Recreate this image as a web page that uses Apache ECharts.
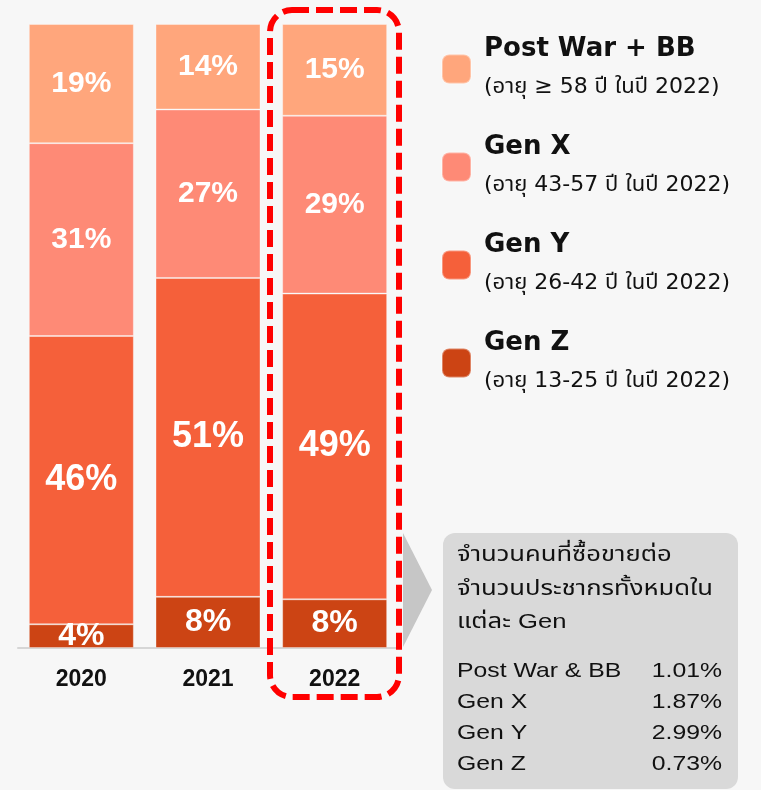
<!DOCTYPE html>
<html lang="th">
<head>
    <meta charset="UTF-8">
    <title>สัดส่วนผู้ซื้อขายแยกตาม Gen</title>
    <style>
        html, body { margin: 0; padding: 0; background: #f7f7f7; }
        #chart { width: 761px; height: 790px; }
    </style>
</head>
<body>
<div id="chart"></div>

<script src="https://cdn.jsdelivr.net/npm/echarts@6/dist/echarts.min.js"></script>
<script>
    // ปี
    var years = ['2020', '2021', '2022'];
    // สัดส่วน (%) ของแต่ละ Gen ในแต่ละปี
    var genZ = [3.8, 8.2, 7.8];
    var genY = [46.2, 51.1, 49.0];
    var genX = [30.9, 27.0, 28.5];
    var postWar = [19.1, 13.7, 14.7];

    var seriesNames = ['Gen Z', 'Gen Y', 'Gen X', 'Post War + BB'];
    var ageNotes = {
        'Post War + BB': '(อายุ ≥ 58 ปี ในปี 2022)',
        'Gen X': '(อายุ 43-57 ปี ในปี 2022)',
        'Gen Y': '(อายุ 26-42 ปี ในปี 2022)',
        'Gen Z': '(อายุ 13-25 ปี ในปี 2022)'
    };

    // กล่องอธิบาย
    var boxTitle = ['จำนวนคนที่ซื้อขายต่อ', 'จำนวนประชากรทั้งหมดใน', 'แต่ละ Gen'];
    var boxGens = ['Post War & BB', 'Gen X', 'Gen Y', 'Gen Z'];
    var boxRatios = ['1.01%', '1.87%', '2.99%', '0.73%'];

    var FONT = '"Liberation Sans", Arial, "Noto Sans Thai", "Noto Sans", sans-serif';
    var WIDE = '"DejaVu Sans", "Liberation Sans", "Noto Sans Thai", sans-serif';
    var colors = {
        'Gen Z': '#cc4414',
        'Gen Y': '#f5603a',
        'Gen X': '#fe8a76',
        'Post War + BB': '#ffa67c'
    };
    var labelSize = {'Gen Z': 32, 'Gen Y': 36, 'Gen X': 30, 'Post War + BB': 30};
    var values = {'Gen Z': genZ, 'Gen Y': genY, 'Gen X': genX, 'Post War + BB': postWar};

    var series = [];
    seriesNames.forEach(function (name) {
        series.push({
            name: name,
            type: 'bar',
            stack: 'all',
            barWidth: 105,
            data: values[name],
            itemStyle: {
                color: colors[name],
                borderColor: 'rgba(255,255,255,0.35)',
                borderWidth: 1
            },
            label: {
                show: true,
                position: 'inside',
                color: '#ffffff',
                fontFamily: FONT,
                fontWeight: 'bold',
                fontSize: labelSize[name],
                formatter: function (p) {
                    return Math.round(p.value) + '%';
                }
            }
        });
    });

    var graphics = [
        {
            type: 'polygon',
            z: 1,
            shape: {points: [[403, 533], [432, 590], [403, 647]]},
            style: {fill: '#c6c6c6'}
        },
        {
            type: 'rect',
            z: 1,
            shape: {x: 443, y: 533, width: 295, height: 256, r: 12},
            style: {fill: '#d9d9d9'}
        },
        {
            type: 'rect',
            z: 100,
            shape: {x: 270, y: 10, width: 129, height: 687, r: 22},
            style: {fill: 'none', stroke: '#ff0000', lineWidth: 6, lineDash: [17, 7]}
        }
    ];
    var titleY = [555, 589, 622];
    boxTitle.forEach(function (line, i) {
        graphics.push({
            type: 'text', z: 2, x: 457, y: titleY[i], scaleX: 1.22,
            style: {text: line, fill: '#111', font: '21px ' + FONT, verticalAlign: 'middle'}
        });
    });
    boxGens.forEach(function (g, i) {
        graphics.push({
            type: 'text', z: 2, x: 457, y: 671 + i * 31, scaleX: 1.18,
            style: {text: g, fill: '#111', font: '21px ' + FONT, verticalAlign: 'middle'}
        });
        graphics.push({
            type: 'text', z: 2, x: 722, y: 671 + i * 31, scaleX: 1.18,
            style: {text: boxRatios[i], fill: '#111', font: '21px ' + FONT, align: 'right', verticalAlign: 'middle'}
        });
    });

    var myChart = echarts.init(document.getElementById('chart'));
    var option = {
        backgroundColor: '#f7f7f7',
        animation: false,
        grid: {left: 18, right: 363, top: 24, bottom: 142},
        legend: {
            orient: 'vertical',
            left: 441,
            top: 36,
            padding: 0,
            itemWidth: 29,
            itemHeight: 29,
            itemGap: 36,
            data: ['Post War + BB', 'Gen X', 'Gen Y', 'Gen Z'],
            formatter: function (name) {
                return '{t|' + name + '}\n{s|' + ageNotes[name] + '}';
            },
            textStyle: {
                padding: [0, 0, 0, 8],
                rich: {
                    t: {fontFamily: WIDE, fontSize: 26, fontWeight: 'bold', color: '#111', lineHeight: 36},
                    s: {fontFamily: WIDE, fontSize: 22, color: '#111', lineHeight: 40}
                }
            }
        },
        xAxis: {
            type: 'category',
            data: years,
            axisTick: {show: false},
            axisLine: {lineStyle: {color: '#d6d6d6', width: 2}},
            axisLabel: {
                color: '#111',
                fontFamily: FONT,
                fontWeight: 'bold',
                fontSize: 23,
                margin: 20
            }
        },
        yAxis: {
            type: 'value',
            min: 0,
            max: 100,
            show: false
        },
        series: series,
        graphic: graphics
    };
    myChart.setOption(option);
</script>
</body>
</html>
